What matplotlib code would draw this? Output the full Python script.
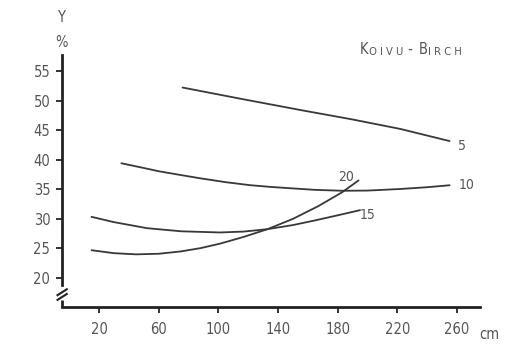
import matplotlib
matplotlib.use("Agg")
import matplotlib.pyplot as plt

# ---- data ----
x_ticks = [20, 60, 100, 140, 180, 220, 260]
y_ticks = [20, 25, 30, 35, 40, 45, 50, 55]

x5 = [76, 115, 155, 190, 222, 255]
y5 = [52.2, 50.3, 48.4, 46.8, 45.2, 43.15]

x10 = [35, 50, 60, 75, 88, 105, 121, 135, 148, 165, 183, 200, 222, 240, 255]
y10 = [39.4, 38.6, 38.05, 37.4, 36.85, 36.2, 35.7, 35.4, 35.18, 34.9, 34.75, 34.78, 35.05, 35.35, 35.68]

x15 = [15, 30, 52, 75, 101, 117, 133, 150, 165, 180, 195]
y15 = [30.34, 29.45, 28.43, 27.9, 27.7, 27.85, 28.26, 28.95, 29.75, 30.6, 31.47]

x20 = [15, 30, 45, 60, 75, 88, 101, 117, 133, 150, 167, 183, 194]
y20 = [24.7, 24.2, 24.0, 24.1, 24.5, 25.05, 25.8, 26.95, 28.26, 30.0, 32.15, 34.5, 36.5]

curve_labels = ["5", "10", "15", "20"]
label_x = [263.6, 266.3, 200.2, 185.4]
label_y = [42.3, 35.7, 30.6, 37.1]

line_col = "#383838"
axis_col = "#222222"
text_col = "#555555"
FONT = dict(family="DejaVu Sans", stretch="condensed")

fig = plt.figure(figsize=(5.17, 3.44), dpi=100)
ax = fig.add_axes([62/517, (344-307)/344, (480-62)/517, (307-55)/344])
ax.set_xlim(-4.8, 275.4)
ax.set_ylim(15.1, 57.7)

for xs, ys in [(x5, y5), (x10, y10), (x15, y15), (x20, y20)]:
    ax.plot(xs, ys, color=line_col, lw=1.3, solid_capstyle="round", solid_joinstyle="round")

for t, lx, ly in zip(curve_labels, label_x, label_y):
    ax.text(lx, ly, t, ha="center", va="center", color=text_col, fontsize=10, **FONT)

# spines
for s in ["top", "right"]:
    ax.spines[s].set_visible(False)
ax.spines["bottom"].set_color(axis_col)
ax.spines["bottom"].set_linewidth(2.0)
ax.spines["left"].set_color(axis_col)
ax.spines["left"].set_linewidth(2.0)
ax.spines["left"].set_bounds(18.8, 57.7)

# lower piece of y axis + break marks
ax.plot([-4.8, -4.8], [15.1, 16.3], color=axis_col, lw=2.0, clip_on=False, solid_capstyle="butt")
ax.plot([-7.8, -1.6], [17.1, 18.1], color=axis_col, lw=1.5, clip_on=False)
ax.plot([-7.8, -1.6], [16.3, 17.3], color=axis_col, lw=1.5, clip_on=False)

ax.set_xticks(x_ticks)
ax.set_yticks(y_ticks)
ax.set_xticklabels([str(v) for v in x_ticks])
ax.set_yticklabels([str(v) for v in y_ticks])
ax.tick_params(axis="both", direction="out", length=4, width=1.3, color=axis_col,
               labelcolor=text_col, labelsize=10.5)
ax.tick_params(axis="x", pad=6.5)
ax.tick_params(axis="y", pad=4.5)
for lab in ax.get_xticklabels() + ax.get_yticklabels():
    lab.set_fontstretch("condensed")

# axis unit texts
ax.text(281.8, 10.5, "cm", ha="center", va="center", color=text_col, fontsize=10.5, clip_on=False, **FONT)
fig.text(61/517, 1 - 18/344, "Y", ha="center", va="center", color=text_col, fontsize=10.5, **FONT)
fig.text(61.5/517, 1 - 42.5/344, "%", ha="center", va="center", color=text_col, fontsize=10.5, **FONT)

# small-caps title "Koivu - Birch"
pieces = [("K", 10.5, 0.5), ("O I V U", 8, 0.5), (" - ", 10.5, 1.0), ("B", 10.5, 0.5), ("I R C H", 8, 0)]
prev = ax.text(195, 57.9, pieces[0][0], ha="left", va="baseline", color=text_col,
               fontsize=pieces[0][1], clip_on=False, **FONT)
gap = pieces[0][2]
for txt, fs, g in pieces[1:]:
    prev = ax.annotate(txt, xy=(1, 0), xycoords=prev, xytext=(gap, 0), textcoords="offset points",
                       ha="left", va="bottom", color=text_col, fontsize=fs, **FONT)
    gap = g

fig.savefig("out.png", dpi=100)
